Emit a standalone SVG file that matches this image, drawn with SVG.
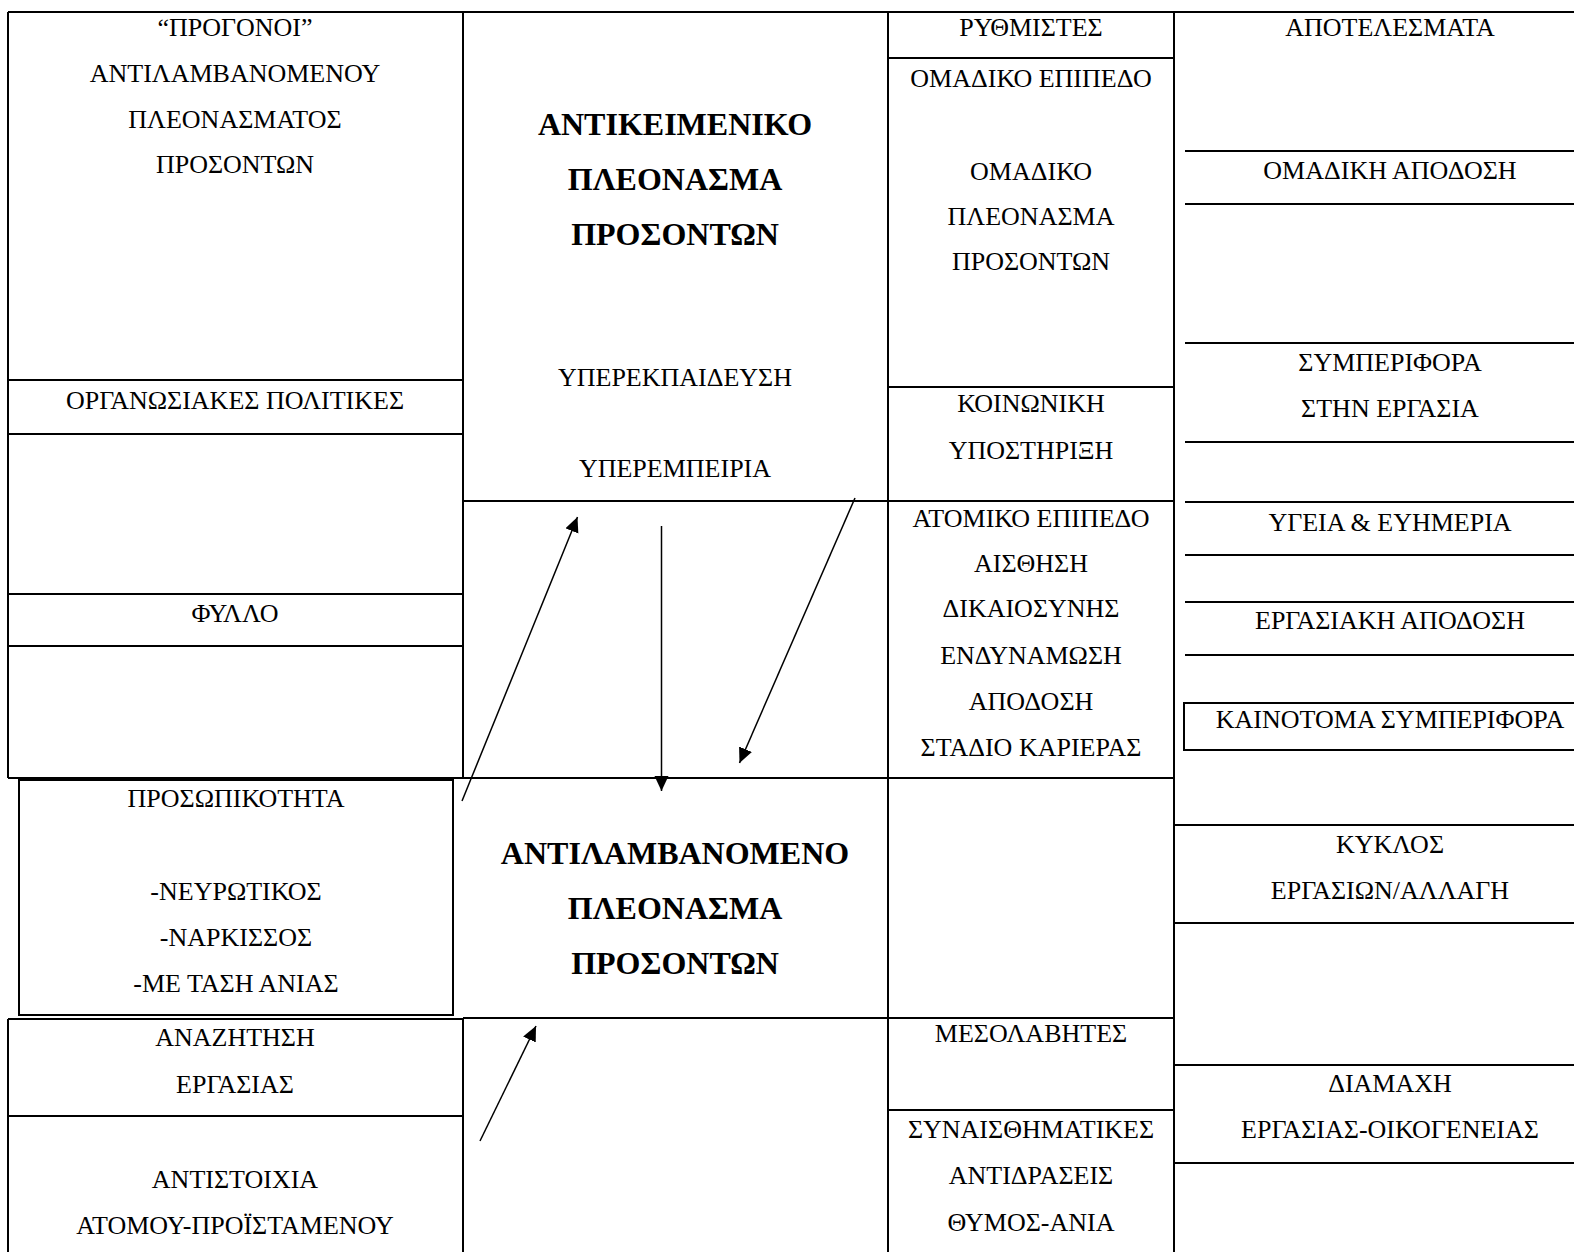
<svg xmlns="http://www.w3.org/2000/svg" width="1574" height="1252" viewBox="0 0 1574 1252">
<style>
.ln{stroke:#000;stroke-width:2;fill:none}
.bx{stroke:#000;stroke-width:2;fill:none}
text{font-family:"Liberation Serif","Times New Roman",serif;font-size:26px;fill:#000;text-anchor:middle}
text.b{font-weight:bold;font-size:32px}
.ar{stroke:#000;stroke-width:1.5;fill:none;marker-end:url(#ah)}
</style>
<defs>
<marker id="ah" markerUnits="userSpaceOnUse" markerWidth="16" markerHeight="15" refX="15" refY="7" orient="auto">
<path d="M0,0 L15,7 L0,14 z" fill="#000"/>
</marker>
</defs>
<rect width="1574" height="1252" fill="#fff"/>
<g id="grid">
<line class="ln" x1="8" y1="12" x2="1574" y2="12"/>
<line class="ln" x1="8" y1="12" x2="8" y2="778"/>
<line class="ln" x1="8" y1="1019" x2="8" y2="1252"/>
<line class="ln" x1="463" y1="12" x2="463" y2="778"/>
<line class="ln" x1="463" y1="1018" x2="463" y2="1252"/>
<line class="ln" x1="888" y1="12" x2="888" y2="1252"/>
<line class="ln" x1="1174" y1="12" x2="1174" y2="1252"/>
<line class="ln" x1="8" y1="380" x2="463" y2="380"/>
<line class="ln" x1="8" y1="434" x2="463" y2="434"/>
<line class="ln" x1="8" y1="594" x2="463" y2="594"/>
<line class="ln" x1="8" y1="646" x2="463" y2="646"/>
<line class="ln" x1="8" y1="778" x2="1174" y2="778"/>
<line class="ln" x1="463" y1="501" x2="1174" y2="501"/>
<line class="ln" x1="888" y1="58" x2="1174" y2="58"/>
<line class="ln" x1="888" y1="387" x2="1174" y2="387"/>
<line class="ln" x1="463" y1="1018" x2="1174" y2="1018"/>
<line class="ln" x1="888" y1="1110" x2="1174" y2="1110"/>
<line class="ln" x1="8" y1="1019" x2="463" y2="1019"/>
<line class="ln" x1="8" y1="1116" x2="463" y2="1116"/>
<line class="ln" x1="1185" y1="151" x2="1574" y2="151"/>
<line class="ln" x1="1185" y1="204" x2="1574" y2="204"/>
<line class="ln" x1="1185" y1="343" x2="1574" y2="343"/>
<line class="ln" x1="1185" y1="442" x2="1574" y2="442"/>
<line class="ln" x1="1185" y1="502" x2="1574" y2="502"/>
<line class="ln" x1="1185" y1="555" x2="1574" y2="555"/>
<line class="ln" x1="1185" y1="602" x2="1574" y2="602"/>
<line class="ln" x1="1185" y1="655" x2="1574" y2="655"/>
<line class="ln" x1="1174" y1="825" x2="1574" y2="825"/>
<line class="ln" x1="1174" y1="923" x2="1574" y2="923"/>
<line class="ln" x1="1174" y1="1065" x2="1574" y2="1065"/>
<line class="ln" x1="1174" y1="1163" x2="1574" y2="1163"/>
</g>
<g id="progonoi">
<text x="235" y="36">“ΠΡΟΓΟΝΟΙ”</text>
<text x="235" y="82">ΑΝΤΙΛΑΜΒΑΝΟΜΕΝΟΥ</text>
<text x="235" y="128">ΠΛΕΟΝΑΣΜΑΤΟΣ</text>
<text x="235" y="173">ΠΡΟΣΟΝΤΩΝ</text>
</g>
<g id="organosiakes"><text x="235" y="409">ΟΡΓΑΝΩΣΙΑΚΕΣ ΠΟΛΙΤΙΚΕΣ</text></g>
<g id="fylo"><text x="235" y="621.5">ΦΥΛΛΟ</text></g>
<g id="prosopikotita">
<rect class="bx" x="19" y="780" width="434" height="235"/>
<text x="236" y="807">ΠΡΟΣΩΠΙΚΟΤΗΤΑ</text>
<text x="236" y="899.5">-ΝΕΥΡΩΤΙΚΟΣ</text>
<text x="236" y="946">-ΝΑΡΚΙΣΣΟΣ</text>
<text x="236" y="992">-ΜΕ ΤΑΣΗ ΑΝΙΑΣ</text>
</g>
<g id="anazitisi">
<text x="235" y="1046">ΑΝΑΖΗΤΗΣΗ</text>
<text x="235" y="1093">ΕΡΓΑΣΙΑΣ</text>
</g>
<g id="antistoixia">
<text x="235" y="1188">ΑΝΤΙΣΤΟΙΧΙΑ</text>
<text x="235" y="1234">ΑΤΟΜΟΥ-ΠΡΟΪΣΤΑΜΕΝΟΥ</text>
</g>
<g id="antikeimeniko">
<text class="b" x="675" y="135">ΑΝΤΙΚΕΙΜΕΝΙΚΟ</text>
<text class="b" x="675" y="190">ΠΛΕΟΝΑΣΜΑ</text>
<text class="b" x="675" y="245">ΠΡΟΣΟΝΤΩΝ</text>
<text x="675" y="386">ΥΠΕΡΕΚΠΑΙΔΕΥΣΗ</text>
<text x="675" y="477">ΥΠΕΡΕΜΠΕΙΡΙΑ</text>
</g>
<g id="antilambanomeno">
<text class="b" x="675" y="864">ΑΝΤΙΛΑΜΒΑΝΟΜΕΝΟ</text>
<text class="b" x="675" y="919">ΠΛΕΟΝΑΣΜΑ</text>
<text class="b" x="675" y="974">ΠΡΟΣΟΝΤΩΝ</text>
</g>
<g id="rythmistes"><text x="1031" y="36">ΡΥΘΜΙΣΤΕΣ</text></g>
<g id="omadiko">
<text x="1031" y="87">ΟΜΑΔΙΚΟ ΕΠΙΠΕΔΟ</text>
<text x="1031" y="180">ΟΜΑΔΙΚΟ</text>
<text x="1031" y="225">ΠΛΕΟΝΑΣΜΑ</text>
<text x="1031" y="270">ΠΡΟΣΟΝΤΩΝ</text>
</g>
<g id="koinoniki">
<text x="1031" y="412">ΚΟΙΝΩΝΙΚΗ</text>
<text x="1031" y="459">ΥΠΟΣΤΗΡΙΞΗ</text>
</g>
<g id="atomiko">
<text x="1031" y="527">ΑΤΟΜΙΚΟ ΕΠΙΠΕΔΟ</text>
<text x="1031" y="572">ΑΙΣΘΗΣΗ</text>
<text x="1031" y="617">ΔΙΚΑΙΟΣΥΝΗΣ</text>
<text x="1031" y="664">ΕΝΔΥΝΑΜΩΣΗ</text>
<text x="1031" y="710">ΑΠΟΔΟΣΗ</text>
<text x="1031" y="756">ΣΤΑΔΙΟ ΚΑΡΙΕΡΑΣ</text>
</g>
<g id="mesolavites"><text x="1031" y="1042">ΜΕΣΟΛΑΒΗΤΕΣ</text></g>
<g id="synaisthimatikes">
<text x="1031" y="1138">ΣΥΝΑΙΣΘΗΜΑΤΙΚΕΣ</text>
<text x="1031" y="1184">ΑΝΤΙΔΡΑΣΕΙΣ</text>
<text x="1031" y="1231">ΘΥΜΟΣ-ΑΝΙΑ</text>
</g>
<g id="apotelesmata"><text x="1390" y="36">ΑΠΟΤΕΛΕΣΜΑΤΑ</text></g>
<g id="omadiki-apodosi"><text x="1390" y="179">ΟΜΑΔΙΚΗ ΑΠΟΔΟΣΗ</text></g>
<g id="symperifora">
<text x="1390" y="371">ΣΥΜΠΕΡΙΦΟΡΑ</text>
<text x="1390" y="417">ΣΤΗΝ ΕΡΓΑΣΙΑ</text>
</g>
<g id="ygeia"><text x="1390" y="531">ΥΓΕΙΑ &amp; ΕΥΗΜΕΡΙΑ</text></g>
<g id="ergasiaki-apodosi"><text x="1390" y="629">ΕΡΓΑΣΙΑΚΗ ΑΠΟΔΟΣΗ</text></g>
<g id="kainotoma">
<rect class="bx" x="1184" y="703" width="400" height="47"/>
<text x="1390" y="728">ΚΑΙΝΟΤΟΜΑ ΣΥΜΠΕΡΙΦΟΡΑ</text>
</g>
<g id="kyklos">
<text x="1390" y="853">ΚΥΚΛΟΣ</text>
<text x="1390" y="899">ΕΡΓΑΣΙΩΝ/ΑΛΛΑΓΗ</text>
</g>
<g id="diamaxi">
<text x="1390" y="1092">ΔΙΑΜΑΧΗ</text>
<text x="1390" y="1138">ΕΡΓΑΣΙΑΣ-ΟΙΚΟΓΕΝΕΙΑΣ</text>
</g>
<g id="connectors">
<line class="ar" x1="462" y1="801" x2="577.5" y2="517"/>
<line class="ar" x1="661.5" y1="526" x2="661.5" y2="791"/>
<line class="ar" x1="855" y1="498" x2="739.5" y2="763"/>
<line class="ar" x1="480" y1="1141" x2="536" y2="1026"/>
</g>
</svg>
